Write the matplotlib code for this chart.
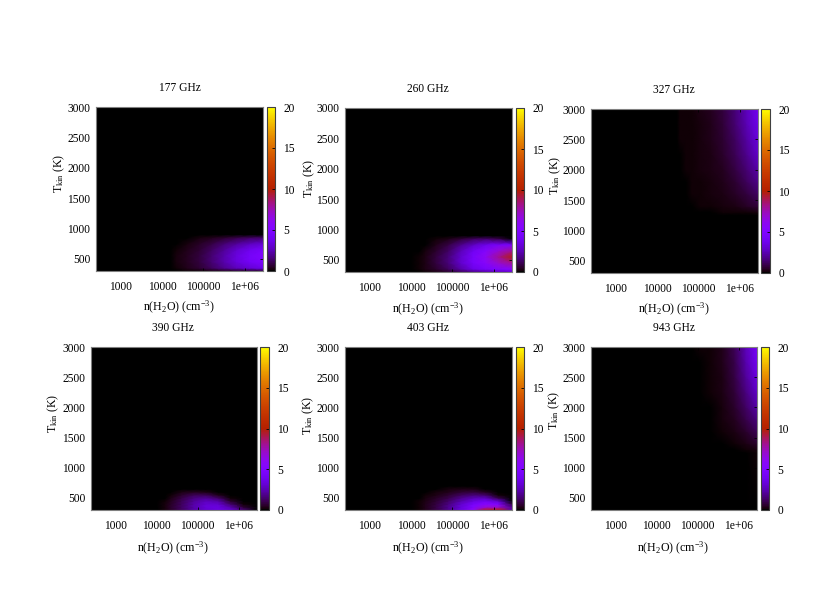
import matplotlib
matplotlib.use("Agg")
import matplotlib.pyplot as plt
from matplotlib.cm import ScalarMappable
from matplotlib.colors import Normalize
from matplotlib.ticker import NullLocator
import numpy as np

plt.rcParams['font.family'] = ['Liberation Serif', 'DejaVu Serif']
plt.rcParams['mathtext.fontset'] = 'custom'
plt.rcParams['mathtext.rm'] = 'Liberation Serif'
plt.rcParams['mathtext.it'] = 'Liberation Serif:italic'
plt.rcParams['mathtext.bf'] = 'Liberation Serif:bold'
plt.rcParams['axes.titlepad'] = 0

W, H = 817, 591

titles = ["177 GHz", "260 GHz", "327 GHz", "390 GHz", "403 GHz", "943 GHz"]
x_ticks = [1e3, 1e4, 1e5, 1e6]
x_labels = ["1000", "10000", "100000", "1e+06"]
y_ticks = [500, 1000, 1500, 2000, 2500, 3000]
c_ticks = [0, 5, 10, 15, 20]

n_low = [250, 1e4, 1.6e4, 2.2e4, 4e4, 8e4, 1.6e5, 3.2e5, 6.3e5, 1.3e6, 2.8e6]
n_high = [250, 3e4, 3.6e4, 5e4, 7e4, 1.1e5, 2e5, 4e5, 8e5, 1.5e6, 2.8e6]

T_a = [300, 350, 450, 550, 650, 750, 850, 900, 3000]
T_b = [300, 350, 400, 450, 500, 550, 600, 650, 700, 3000]
T_c = [300, 1250, 1300, 1400, 1600, 1800, 2000, 2250, 2500, 2750, 3000]

v177 = [
    [0, 0, 0, .05, .1, .15, .25, .4, .5, .6, .7],
    [0, 0, 0, .15, .35, .7, 1.2, 1.9, 2.6, 3.2, 3.7],
    [0, 0, 0, .18, .4, .8, 1.5, 2.4, 3.3, 4.2, 4.8],
    [0, 0, 0, .18, .4, .8, 1.5, 2.4, 3.4, 4.3, 5.0],
    [0, 0, 0, .12, .35, .7, 1.3, 2.1, 3.0, 3.9, 4.6],
    [0, 0, 0, .06, .22, .5, .9, 1.5, 2.1, 2.7, 3.2],
    [0, 0, 0, 0, .06, .18, .35, .6, .9, 1.2, 1.4],
    [0, 0, 0, 0, 0, 0, 0, 0, 0, 0, 0],
    [0, 0, 0, 0, 0, 0, 0, 0, 0, 0, 0],
]
v260 = [
    [0, 0, .05, .12, .3, .6, 1.1, 1.7, 2.2, 2.7, 3.0],
    [0, 0, .1, .25, .6, 1.2, 2.3, 3.6, 4.4, 5.0, 5.5],
    [0, 0, .12, .3, .8, 1.6, 3.0, 4.4, 5.5, 7.0, 8.0],
    [0, 0, .1, .3, .8, 1.6, 3.0, 4.5, 6.0, 8.0, 9.8],
    [0, 0, .04, .18, .6, 1.3, 2.6, 4.0, 5.3, 6.8, 8.0],
    [0, 0, 0, .06, .35, .9, 1.8, 2.8, 3.7, 4.5, 4.5],
    [0, 0, 0, 0, .08, .3, .7, 1.1, 1.3, .9, 0],
    [0, 0, 0, 0, 0, 0, 0, 0, 0, 0, 0],
    [0, 0, 0, 0, 0, 0, 0, 0, 0, 0, 0],
]
v327 = [
    [0, 0, 0, 0, 0, 0, 0, 0, 0, 0, 0],
    [0, 0, 0, 0, 0, 0, 0, 0, 0, 0, 0],
    [0, 0, 0, 0, 0, 0, .03, .1, .12, .15, .2],
    [0, 0, 0, 0, .03, .1, .12, .17, .3, .5, .75],
    [0, 0, 0, .03, .09, .12, .16, .25, .5, .85, 1.3],
    [0, 0, .02, .07, .1, .14, .2, .35, .7, 1.2, 1.8],
    [0, 0, .05, .08, .11, .16, .24, .45, .9, 1.5, 2.3],
    [0, .03, .07, .09, .12, .18, .28, .55, 1.1, 1.9, 2.9],
    [0, .05, .08, .1, .13, .2, .32, .65, 1.3, 2.2, 3.3],
    [0, .06, .08, .1, .14, .22, .36, .75, 1.5, 2.5, 3.7],
    [0, .06, .08, .11, .15, .24, .4, .8, 1.6, 2.7, 4.1],
]
v390 = [
    [0, 0, .2, .5, 1.2, 2.2, 3.0, 3.4, 3.0, 1.5, 0],
    [0, 0, .2, .55, 1.3, 2.4, 3.3, 3.5, 2.4, .7, 0],
    [0, 0, .16, .5, 1.2, 2.3, 3.1, 3.0, 1.4, .1, 0],
    [0, 0, .1, .4, 1.1, 2.1, 2.7, 2.3, .6, 0, 0],
    [0, 0, .04, .28, .9, 1.7, 2.0, 1.3, .1, 0, 0],
    [0, 0, 0, .14, .6, 1.1, 1.1, .35, 0, 0, 0],
    [0, 0, 0, .03, .25, .45, .3, .03, 0, 0, 0],
    [0, 0, 0, 0, 0, 0, 0, 0, 0, 0, 0],
    [0, 0, 0, 0, 0, 0, 0, 0, 0, 0, 0],
    [0, 0, 0, 0, 0, 0, 0, 0, 0, 0, 0],
]
v403 = [
    [0, 0, .12, .35, .9, 1.8, 3.3, 5.8, 9.5, 10.0, 2.5],
    [0, 0, .14, .35, .9, 1.9, 3.3, 5.0, 6.8, 7.0, 2.0],
    [0, 0, .14, .35, .8, 1.7, 3.0, 4.4, 5.5, 5.0, .8],
    [0, 0, .1, .28, .7, 1.4, 2.4, 3.4, 4.0, 3.0, .05],
    [0, 0, .06, .2, .5, 1.0, 1.8, 2.5, 2.7, 1.0, 0],
    [0, 0, .02, .1, .3, .65, 1.2, 1.6, 1.4, .1, 0],
    [0, 0, 0, .05, .16, .38, .7, .8, .4, 0, 0],
    [0, 0, 0, 0, .06, .16, .3, .25, .03, 0, 0],
    [0, 0, 0, 0, 0, 0, 0, 0, 0, 0, 0],
    [0, 0, 0, 0, 0, 0, 0, 0, 0, 0, 0],
]
v943 = [
    [0, 0, 0, 0, 0, 0, 0, 0, 0, 0, 0],
    [0, 0, 0, 0, 0, 0, 0, 0, 0, 0, .1],
    [0, 0, 0, 0, 0, 0, 0, 0, .03, .12, .22],
    [0, 0, 0, 0, 0, 0, 0, .03, .15, .3, .55],
    [0, 0, 0, 0, 0, 0, 0, .12, .3, .6, 1.1],
    [0, 0, 0, 0, 0, 0, .02, .17, .45, 1.0, 1.7],
    [0, 0, 0, 0, 0, 0, .05, .2, .6, 1.3, 2.3],
    [0, 0, 0, 0, 0, 0, .1, .26, .75, 1.7, 2.9],
    [0, 0, 0, 0, 0, .02, .12, .3, .9, 2.1, 3.5],
    [0, 0, 0, 0, 0, .05, .14, .34, 1.0, 2.4, 4.0],
    [0, 0, 0, 0, 0, .08, .15, .36, 1.1, 2.6, 4.4],
]

panels = [
    (n_low, T_a, v177), (n_low, T_a, v260), (n_high, T_c, v327),
    (n_low, T_b, v390), (n_low, T_b, v403), (n_high, T_c, v943),
]

# pixel layout: left, right, top, bottom, cb_left, cb_right, title(x,y), xlabel(x,y), ylabel(x,y)
layout = [
    (96, 263, 107, 271, 267, 275, (180, 88), (179, 306), (59, 173)),
    (345, 512, 108, 272, 516, 524, (428, 89), (428, 308), (309, 178)),
    (591, 758, 109, 273, 761, 770, (674, 90), (674, 308), (555, 175)),
    (91, 257, 347, 510, 260, 269, (173, 328), (173, 547), (53, 413)),
    (345, 512, 347, 510, 516, 524, (428, 328), (428, 547), (308, 415)),
    (591, 757, 347, 510, 761, 769, (674, 328), (673, 547), (554, 410)),
]

fs = 8.3
cmap = plt.get_cmap('gnuplot')
norm = Normalize(0, 20)
fig = plt.figure(figsize=(W / 100, H / 100), dpi=100, facecolor='white')

for title, (xs, ys, vals), L in zip(titles, panels, layout):
    l, r, t, b, cl, cr, tp, xp, yp = L
    ax = fig.add_axes([l / W, 1 - b / H, (r - l) / W, (b - t) / H])
    ax.set_facecolor('black')
    ax.pcolormesh(xs, ys, np.array(vals), cmap=cmap, norm=norm, shading='gouraud')
    ax.set_xscale('log')
    ax.set_xlim(250, 2.8e6)
    ax.set_ylim(300, 3000)
    ax.set_xticks(x_ticks, x_labels)
    ax.xaxis.set_minor_locator(NullLocator())
    ax.set_yticks(y_ticks)
    ax.tick_params(axis='both', which='major', direction='in', length=2.5, width=0.6,
                   labelsize=fs, color='black', top=True, right=True)
    ax.tick_params(axis='x', pad=7.5)
    ax.tick_params(axis='y', pad=4)
    for s in ax.spines.values():
        s.set_color('#808080')
        s.set_linewidth(0.8)
    ax.set_title(title, fontsize=fs, x=(tp[0] - l) / (r - l), y=(b - tp[1]) / (b - t), va='center')
    ax.set_xlabel(r'n(H$_2$O) (cm$^{-3}$)', fontsize=fs + 0.3, va='center')
    ax.xaxis.set_label_coords((xp[0] - l) / (r - l), (b - xp[1] - 1) / (b - t))
    ax.set_ylabel(r'T$_{\mathrm{kin}}$ (K)', fontsize=fs + 0.3, va='center')
    ax.yaxis.set_label_coords((yp[0] - l) / (r - l), (b - yp[1]) / (b - t))

    cax = fig.add_axes([cl / W, 1 - b / H, (cr - cl) / W, (b - t) / H])
    cb = fig.colorbar(ScalarMappable(norm=norm, cmap=cmap), cax=cax, ticks=c_ticks)
    cb.ax.tick_params(direction='in', length=2.5, width=0.6, labelsize=fs, pad=6, color='black')
    cb.ax.yaxis.set_minor_locator(NullLocator())
    cb.outline.set_edgecolor('#404040')
    cb.outline.set_linewidth(0.8)

fig.savefig('out.png', dpi=100, facecolor='white')
